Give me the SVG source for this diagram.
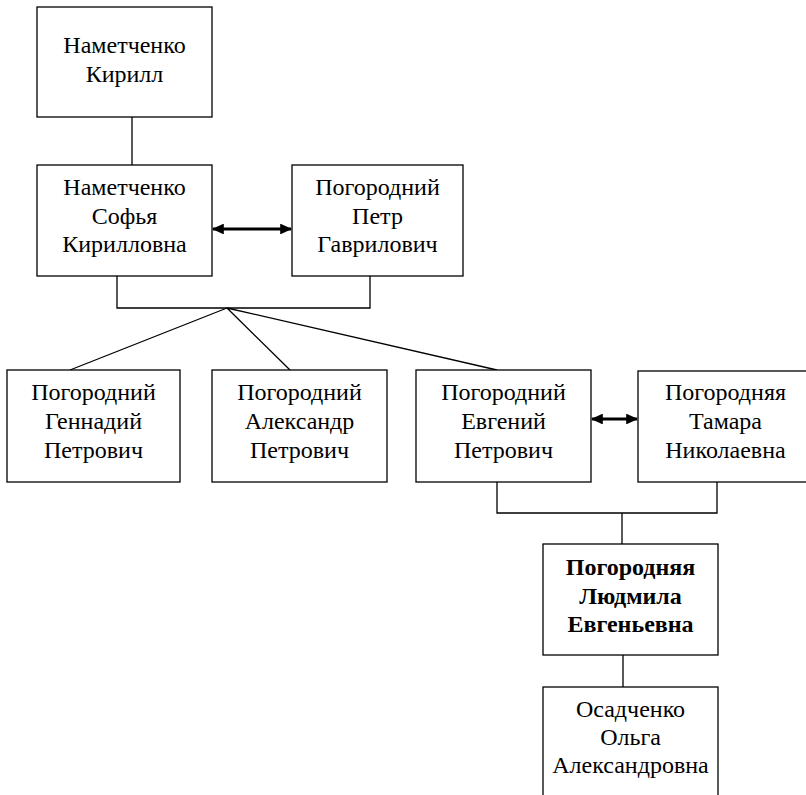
<svg xmlns="http://www.w3.org/2000/svg" width="806" height="795" viewBox="0 0 806 795">
<defs>
<style>
.box{fill:#fff;stroke:#000;stroke-width:1.3}
.t{font-family:'Liberation Serif','Times New Roman','DejaVu Serif',serif;font-size:24px;fill:#000;text-anchor:middle}
.b{font-weight:bold}
.ln{fill:none;stroke:#000;stroke-width:1.3}
.ar{fill:none;stroke:#000;stroke-width:3}
</style>
<marker id="ah" viewBox="0 0 10 10" refX="9" refY="5" markerWidth="4" markerHeight="3.6" orient="auto-start-reverse" markerUnits="strokeWidth" preserveAspectRatio="none">
<path d="M0,0 L10,5 L0,10 z" fill="#000"/>
</marker>
</defs>
<rect width="806" height="795" fill="#fff"/>
<g id="connectors">
<path class="ln" d="M132,117 V165"/>
<path class="ln" d="M117,276 V308 H370 V276"/>
<path class="ln" d="M227,308 L70,370 M227,308 L290,370 M227,308 L497,370"/>
<path class="ln" d="M497,482 V513 H717 V482"/>
<path class="ln" d="M622,513 V544"/>
<path class="ln" d="M623,655 V687"/>
<path class="ar" d="M213,229 H291" marker-start="url(#ah)" marker-end="url(#ah)"/>
<path class="ar" d="M592,419 H637" marker-start="url(#ah)" marker-end="url(#ah)"/>
</g>
<g id="n1">
<rect class="box" x="37" y="7" width="175" height="110"/>
<text class="t" x="124.5" y="53">Наметченко</text>
<text class="t" x="124.5" y="82">Кирилл</text>
</g>
<g id="n2">
<rect class="box" x="37" y="165" width="175" height="111"/>
<text class="t" x="124.5" y="195">Наметченко</text>
<text class="t" x="124.5" y="223.5">Софья</text>
<text class="t" x="124.5" y="252">Кирилловна</text>
</g>
<g id="n3">
<rect class="box" x="292" y="165" width="171" height="111"/>
<text class="t" x="377.5" y="195">Погородний</text>
<text class="t" x="377.5" y="223.5">Петр</text>
<text class="t" x="377.5" y="252">Гаврилович</text>
</g>
<g id="n4">
<rect class="box" x="7" y="370" width="173" height="112"/>
<text class="t" x="93.5" y="400">Погородний</text>
<text class="t" x="93.5" y="429">Геннадий</text>
<text class="t" x="93.5" y="457.5">Петрович</text>
</g>
<g id="n5">
<rect class="box" x="212" y="370" width="175" height="112"/>
<text class="t" x="299.5" y="400">Погородний</text>
<text class="t" x="299.5" y="429">Александр</text>
<text class="t" x="299.5" y="457.5">Петрович</text>
</g>
<g id="n6">
<rect class="box" x="416" y="370" width="175" height="112"/>
<text class="t" x="503.5" y="400">Погородний</text>
<text class="t" x="503.5" y="429">Евгений</text>
<text class="t" x="503.5" y="457.5">Петрович</text>
</g>
<g id="n7">
<rect class="box" x="638" y="371" width="175" height="111"/>
<text class="t" x="725.5" y="400">Погородняя</text>
<text class="t" x="725.5" y="429">Тамара</text>
<text class="t" x="725.5" y="457.5">Николаевна</text>
</g>
<g id="n8">
<rect class="box" x="543" y="544" width="175" height="111"/>
<text class="t b" x="630.5" y="575">Погородняя</text>
<text class="t b" x="630.5" y="603.5">Людмила</text>
<text class="t b" x="630.5" y="632">Евгеньевна</text>
</g>
<g id="n9">
<rect class="box" x="543" y="687" width="175" height="120"/>
<text class="t" x="630.5" y="717">Осадченко</text>
<text class="t" x="630.5" y="745">Ольга</text>
<text class="t" x="630.5" y="773">Александровна</text>
</g>
</svg>
